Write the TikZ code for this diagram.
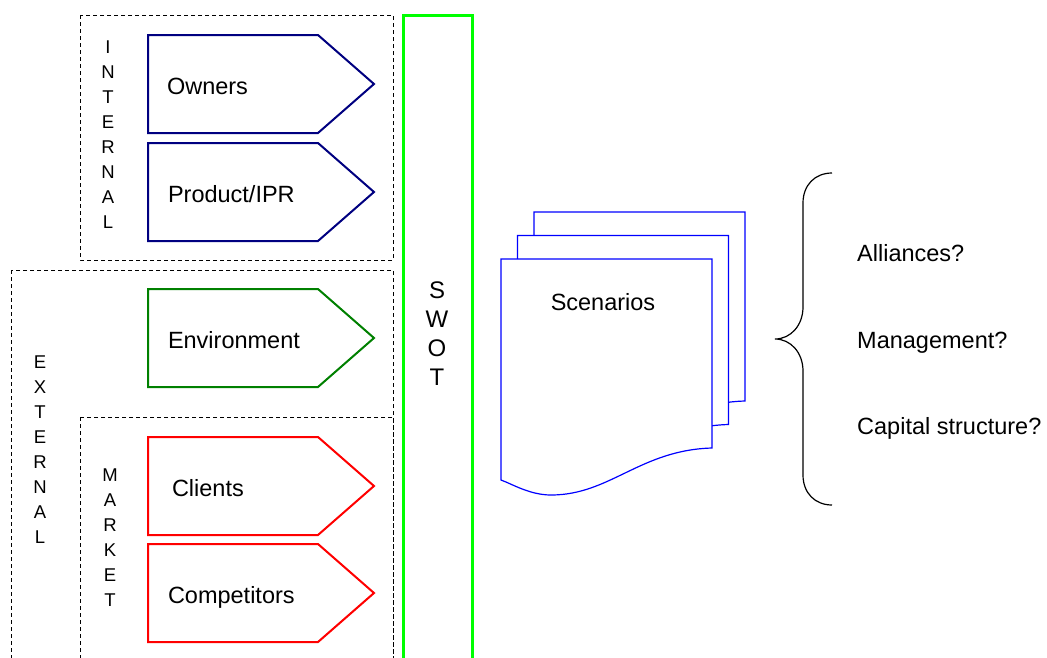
\documentclass[tikz,border=0pt]{standalone}
\usepackage{fontspec}
\setmainfont{Liberation Sans}
\definecolor{navyblue}{RGB}{0,0,128}
\definecolor{darkgreen}{RGB}{0,128,0}
\definecolor{swotgreen}{RGB}{0,255,0}

\tikzstyle{every node}=[inner sep=0pt, font=\fontsize{23.5}{28}\selectfont]
\tikzstyle{group}=[draw=black, line width=0.8pt, dash pattern=on 4pt off 3pt]
\tikzstyle{factor}=[line width=2pt, fill=white]
\tikzstyle{letters}=[anchor=north, align=center, font=\fontsize{18.5}{25}\selectfont]
\tikzstyle{document}=[draw=blue, line width=1.2pt, fill=white]

\begin{document}
\begin{tikzpicture}[x=1pt, y=-1pt]
    \useasboundingbox (0,0) rectangle (1047,657);
    \clip (0,0) rectangle (1047,657);

    \draw [group] (80,15) rectangle (393,260);
    \draw [group] (11,270) rectangle (393,680);
    \draw [group] (80,417) rectangle (393,680);

    \node [letters] (internal) at (108,40.5) {I\\N\\T\\E\\R\\N\\A\\L};
    \node [letters] (external) at (40,355.5) {E\\X\\T\\E\\R\\N\\A\\L};
    \node [letters] (market) at (110,468.5) {M\\A\\R\\K\\E\\T};

    \foreach \nm/\ytop/\col/\tx/\txt in {owners/35/navyblue/166/Owners,
        product/143/navyblue/167/{Product/IPR},
        environment/289/darkgreen/167/Environment,
        clients/437/red/171/Clients,
        competitors/544/red/167/Competitors}
        \draw [factor, draw=\col] (148,\ytop) -- ++(170,0) -- ++(56,49) -- ++(-56,49) -- ++(-170,0) -- cycle
            (\tx,\ytop+59) node [anchor=base west] (\nm) {\txt};

    \draw [swotgreen, line width=3pt] (403,15.5) rectangle (472,700);
    \node [letters, font=\fontsize{24}{29}\selectfont] (swot) at (437,281.5) {S\\W\\O\\T};

    \foreach \i in {2,1,0}
        \draw [document, shift={(16.5*\i,-23.5*\i)}] (501,259) -- (712,259) -- (712,448)
            .. controls (640,450) and (610,495) .. (551,495)
            .. controls (530,495) and (512,484) .. (501,480) -- cycle;
    \node [anchor=base] (scenarios) at (603,310) {Scenarios};

    \draw [line width=1.2pt] (832,173) .. controls (815,173) and (803,185) .. (803,203) -- (803,307)
        .. controls (803,325) and (791,339) .. (775,339)
        .. controls (791,339) and (803,353) .. (803,371) -- (803,475)
        .. controls (803,493) and (815,505) .. (832,505);

    \node [anchor=base west] (alliances) at (857,261.5) {Alliances?};
    \node [anchor=base west] (management) at (857,348.5) {Management?};
    \node [anchor=base west] (capital) at (857,434.5) {Capital structure?};
\end{tikzpicture}
\end{document}
